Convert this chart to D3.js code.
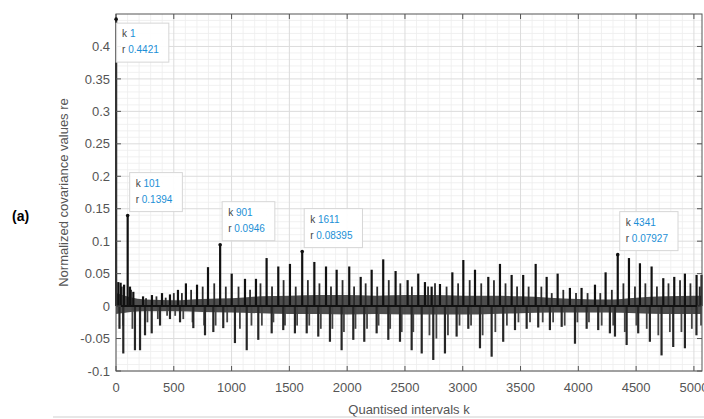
<!DOCTYPE html>
<html>
<head>
<meta charset="utf-8">
<script src="https://cdn.jsdelivr.net/npm/d3@7"></script>
<style>
  body { margin: 0; background: #fff; }
  text { font-family: "Liberation Sans", Arial, sans-serif; }
</style>
</head>
<body>
<div id="chart"></div>
<script>
// tick values
const xTicks = [0, 500, 1000, 1500, 2000, 2500, 3000, 3500, 4000, 4500, 5000];
const yTicks = [-0.1, -0.05, 0, 0.05, 0.1, 0.15, 0.2, 0.25, 0.3, 0.35, 0.4];

// main positive peaks (k, r)
const posK = [1, 20, 40, 70, 101, 121, 150, 234, 311, 398, 467, 536, 605, 701, 796, 901, 1001, 1116, 1211, 1303,
  1404, 1505, 1611, 1716, 1817, 1909, 2018, 2117, 2212, 2312, 2419, 2523, 2615, 2673, 2731, 2803, 2910, 3005,
  3106, 3221, 3322, 3423, 3523, 3631, 3726, 3821, 3927, 4028, 4144, 4236, 4341, 4438, 4533, 4634, 4735, 4830,
  4922, 5023, 5066];
const posR = [0.4421, 0.037, 0.036, 0.033, 0.1394, 0.03, 0.022, 0.015, 0.017, 0.02, 0.018, 0.025, 0.035, 0.033,
  0.06, 0.0946, 0.05, 0.042, 0.042, 0.074, 0.061, 0.065, 0.08395, 0.068, 0.061, 0.056, 0.061, 0.045, 0.056,
  0.072, 0.054, 0.04, 0.05, 0.037, 0.03, 0.034, 0.052, 0.071, 0.056, 0.045, 0.065, 0.048, 0.048, 0.065, 0.045,
  0.05, 0.028, 0.028, 0.033, 0.052, 0.07927, 0.074, 0.066, 0.061, 0.043, 0.045, 0.05, 0.048, 0.048];

// main negative dips
const negK = [30, 63, 164, 208, 251, 309, 381, 467, 554, 669, 770, 842, 928, 1029, 1131, 1231, 1347, 1447, 1548,
  1650, 1750, 1851, 1952, 2053, 2148, 2255, 2356, 2457, 2558, 2645, 2745, 2846, 2947, 3048, 3149, 3250, 3350,
  3452, 3553, 3653, 3754, 3856, 3971, 4072, 4172, 4273, 4317, 4418, 4518, 4619, 4720, 4821, 4922, 5022];
const negR = [-0.035, -0.073, -0.068, -0.068, -0.045, -0.042, -0.03, -0.02, -0.025, -0.034, -0.045, -0.04, -0.034,
  -0.057, -0.068, -0.052, -0.042, -0.037, -0.042, -0.042, -0.047, -0.055, -0.068, -0.052, -0.055, -0.042, -0.052,
  -0.055, -0.068, -0.073, -0.083, -0.073, -0.047, -0.035, -0.065, -0.078, -0.055, -0.037, -0.035, -0.033, -0.037,
  -0.032, -0.058, -0.035, -0.037, -0.042, -0.047, -0.06, -0.042, -0.055, -0.076, -0.063, -0.065, -0.045];

// smaller bars in between the main ones
const midK = [50, 130, 260, 350, 430, 500, 570, 650, 750, 850, 950, 1060, 1160, 1250, 1350, 1450, 1555, 1660,
  1760, 1860, 1960, 2060, 2160, 2260, 2360, 2460, 2560, 2700, 2760, 2860, 2960, 3060, 3160, 3270, 3370, 3470,
  3570, 3680, 3770, 3870, 3980, 4080, 4190, 4290, 4390, 4490, 4580, 4680, 4780, 4880, 4970, 5050];
const midPos = [0.03, 0.025, 0.012, 0.015, 0.013, 0.02, 0.02, 0.025, 0.03, 0.035, 0.03, 0.03, 0.025, 0.035, 0.03,
  0.04, 0.03, 0.04, 0.035, 0.03, 0.04, 0.03, 0.035, 0.03, 0.04, 0.035, 0.03, 0.03, 0.035, 0.03, 0.035, 0.04, 0.035,
  0.04, 0.035, 0.03, 0.03, 0.03, 0.02, 0.025, 0.02, 0.02, 0.02, 0.025, 0.035, 0.03, 0.035, 0.03, 0.035, 0.04,
  0.035, 0.03];
const midNeg = [-0.03, -0.035, -0.025, -0.02, -0.015, -0.015, -0.02, -0.025, -0.03, -0.03, -0.025, -0.035, -0.03,
  -0.03, -0.025, -0.03, -0.03, -0.03, -0.035, -0.035, -0.04, -0.035, -0.035, -0.03, -0.035, -0.04, -0.04, -0.045,
  -0.05, -0.045, -0.03, -0.03, -0.045, -0.04, -0.03, -0.025, -0.025, -0.025, -0.025, -0.03, -0.025, -0.025,
  -0.03, -0.03, -0.04, -0.03, -0.035, -0.045, -0.04, -0.04, -0.035, -0.03];

// dense black band around zero
const bandK = [0, 250, 500, 750, 1000, 1250, 1500, 1750, 2000, 2250, 2500, 2750, 3000, 3250, 3500, 3750, 4000,
  4250, 4500, 4750, 5000, 5070];
const bandHi = [0.02, 0.01, 0.009, 0.011, 0.012, 0.015, 0.016, 0.017, 0.017, 0.016, 0.017, 0.017, 0.016, 0.016,
  0.015, 0.013, 0.011, 0.01, 0.013, 0.015, 0.016, 0.016];
const bandLo = [-0.012, -0.008, -0.008, -0.009, -0.01, -0.011, -0.012, -0.012, -0.013, -0.012, -0.013, -0.013,
  -0.013, -0.012, -0.011, -0.01, -0.01, -0.01, -0.011, -0.012, -0.012, -0.012];

// data tips
const tipK = [1, 101, 901, 1611, 4341];
const tipR = [0.4421, 0.1394, 0.0946, 0.08395, 0.07927];

const W = 704, H = 419;
const plot = { left: 116, right: 702, top: 14, bottom: 371 };

const svg = d3.select('#chart')
  .append('svg')
  .attr('width', W)
  .attr('height', H)
  .attr('viewBox', `0 0 ${W} ${H}`);

const x = d3.scaleLinear().domain([0, 5070]).range([plot.left, plot.right]);
const y = d3.scaleLinear().domain([-0.1, 0.45]).range([plot.bottom, plot.top]);

// minor grid every 100 in k and 0.01 in r
const xMinor = d3.range(100, 5070, 100).filter(v => v % 500 !== 0);
const yMinor = d3.range(-9, 45).map(v => v / 100).filter(v => Math.abs(Math.round(v * 100) % 5) !== 0);

const grid = svg.append('g');
grid.selectAll('.vmin').data(xMinor).join('line')
  .attr('x1', d => x(d)).attr('x2', d => x(d))
  .attr('y1', plot.top).attr('y2', plot.bottom)
  .attr('stroke', '#ededed').attr('stroke-width', 0.8);
grid.selectAll('.hmin').data(yMinor).join('line')
  .attr('x1', plot.left).attr('x2', plot.right)
  .attr('y1', d => y(d)).attr('y2', d => y(d))
  .attr('stroke', '#ededed').attr('stroke-width', 0.8);
grid.selectAll('.vmaj').data(xTicks).join('line')
  .attr('x1', d => x(d)).attr('x2', d => x(d))
  .attr('y1', plot.top).attr('y2', plot.bottom)
  .attr('stroke', '#dcdcdc');
grid.selectAll('.hmaj').data(yTicks).join('line')
  .attr('x1', plot.left).attr('x2', plot.right)
  .attr('y1', d => y(d)).attr('y2', d => y(d))
  .attr('stroke', '#dcdcdc');

// data
const data = svg.append('g');
const band = d3.range(bandK.length).map(i => ({ k: bandK[i], hi: bandHi[i], lo: bandLo[i] }));
data.append('path')
  .datum(band)
  .attr('fill', '#222')
  .attr('opacity', 0.8)
  .attr('d', d3.area().x(d => x(d.k)).y0(d => y(d.lo)).y1(d => y(d.hi)).curve(d3.curveMonotoneX));

const stems = [];
midK.forEach((k, i) => {
  stems.push({ k: k, r: midPos[i], w: 1.8, c: '#2b2b2b' });
  stems.push({ k: k + 12, r: midNeg[i], w: 1.8, c: '#444' });
});
posK.forEach((k, i) => stems.push({ k: k, r: posR[i], w: 2.2, c: '#111' }));
negK.forEach((k, i) => stems.push({ k: k, r: negR[i], w: 2.2, c: '#262626' }));

data.selectAll('.stem').data(stems).join('line')
  .attr('x1', d => x(d.k)).attr('x2', d => x(d.k))
  .attr('y1', y(0)).attr('y2', d => y(d.r))
  .attr('stroke', d => d.c)
  .attr('stroke-width', d => d.w);

data.append('line')
  .attr('x1', plot.left).attr('x2', plot.right)
  .attr('y1', y(0)).attr('y2', y(0))
  .attr('stroke', '#111').attr('stroke-width', 2);

// axes box and inward ticks
const axisColor = '#555';
svg.append('rect')
  .attr('x', plot.left).attr('y', plot.top)
  .attr('width', plot.right - plot.left).attr('height', plot.bottom - plot.top)
  .attr('fill', 'none').attr('stroke', axisColor).attr('stroke-width', 1);

const ticks = svg.append('g').attr('stroke', axisColor);
xTicks.forEach(v => {
  ticks.append('line').attr('x1', x(v)).attr('x2', x(v)).attr('y1', plot.bottom).attr('y2', plot.bottom - 5);
  ticks.append('line').attr('x1', x(v)).attr('x2', x(v)).attr('y1', plot.top).attr('y2', plot.top + 5);
});
yTicks.forEach(v => {
  ticks.append('line').attr('x1', plot.left).attr('x2', plot.left + 5).attr('y1', y(v)).attr('y2', y(v));
  ticks.append('line').attr('x1', plot.right).attr('x2', plot.right - 5).attr('y1', y(v)).attr('y2', y(v));
});

const labelColor = '#555';
svg.append('g').selectAll('text').data(xTicks).join('text')
  .attr('x', d => x(d))
  .attr('y', plot.bottom + 21)
  .attr('text-anchor', 'middle')
  .attr('font-size', 13)
  .attr('fill', labelColor)
  .text(d => d);

svg.append('g').selectAll('text').data(yTicks).join('text')
  .attr('x', plot.left - 6)
  .attr('y', d => y(d))
  .attr('dy', '0.36em')
  .attr('text-anchor', 'end')
  .attr('font-size', 13)
  .attr('fill', labelColor)
  .text(d => String(+d.toFixed(2)));

svg.append('text')
  .attr('x', (plot.left + plot.right) / 2)
  .attr('y', 414)
  .attr('text-anchor', 'middle')
  .attr('font-size', 13)
  .attr('fill', labelColor)
  .text('Quantised intervals k');

svg.append('text')
  .attr('transform', `translate(68, ${(plot.top + plot.bottom) / 2}) rotate(-90)`)
  .attr('text-anchor', 'middle')
  .attr('font-size', 13)
  .attr('fill', labelColor)
  .text('Normalized covariance values re');

svg.append('text')
  .attr('x', 12)
  .attr('y', 221)
  .attr('font-family', '"Liberation Serif", "Times New Roman", serif')
  .attr('font-weight', 'bold')
  .attr('font-size', 14)
  .attr('fill', '#000')
  .text('(a)');

// thin rule under the figure
svg.append('line')
  .attr('x1', 53).attr('x2', W)
  .attr('y1', 417).attr('y2', 417)
  .attr('stroke', '#cfcfcf').attr('stroke-width', 1);

// data tips
const tips = svg.append('g');
tipK.forEach((k, i) => {
  const px = x(k), py = y(tipR[i]);
  const g = tips.append('g');
  const rect = g.append('rect');
  const t1 = g.append('text').attr('font-size', 10);
  t1.append('tspan').attr('fill', '#444').text('k ');
  t1.append('tspan').attr('fill', '#1c8fd6').text(k);
  const t2 = g.append('text').attr('font-size', 10);
  t2.append('tspan').attr('fill', '#444').text('r ');
  t2.append('tspan').attr('fill', '#1c8fd6').text(tipR[i]);

  const w = Math.max(t1.node().getComputedTextLength(), t2.node().getComputedTextLength()) + 16;
  const h = 39;
  const above = py - h - 4 > plot.top;
  const bx = px + (i === 0 ? 0 : 2);
  const by = above ? py - h - 4 : py + 4;
  rect.attr('x', bx).attr('y', by).attr('width', w).attr('height', h)
    .attr('fill', '#fff').attr('fill-opacity', 0.92)
    .attr('stroke', '#d6d6d6').attr('stroke-width', 1);
  t1.attr('x', bx + 6).attr('y', by + 14);
  t2.attr('x', bx + 6).attr('y', by + 30);

  g.append('circle').attr('cx', px).attr('cy', py).attr('r', 1.8).attr('fill', '#111');
});
</script>
</body>
</html>
